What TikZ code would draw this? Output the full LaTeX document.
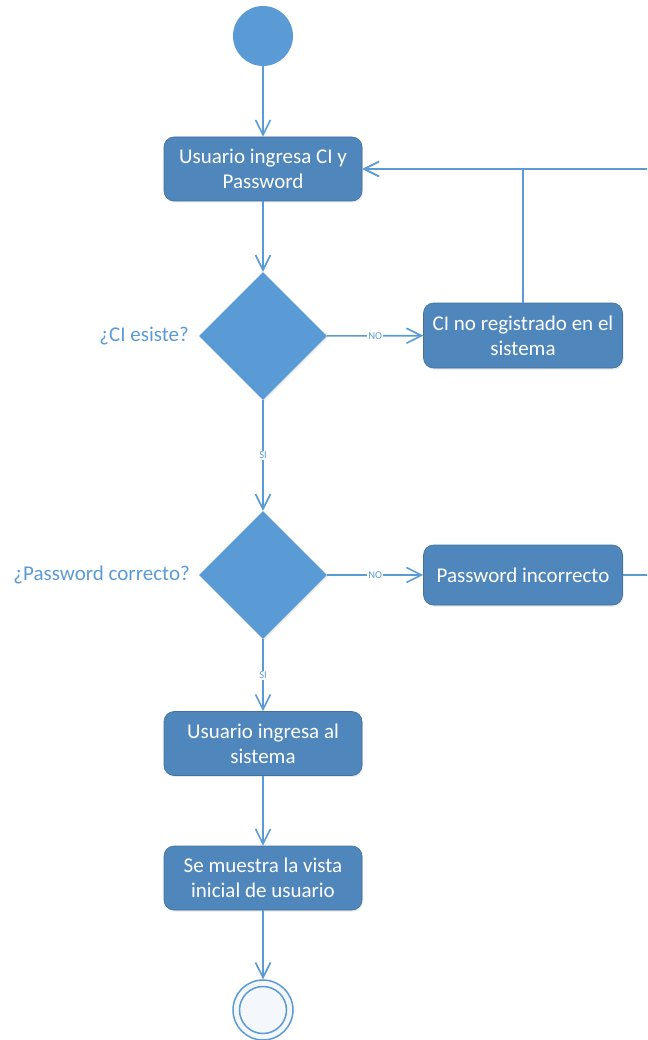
\documentclass[tikz,border=0pt]{standalone}
\usepackage{fontspec}
\setmainfont{Carlito}
\usetikzlibrary{arrows.meta,shapes.geometric,shadows}
\definecolor{boxblue}{RGB}{79,134,188}
\definecolor{boxedge}{RGB}{65,113,156}
\definecolor{lightblue}{RGB}{91,155,213}
\definecolor{finalfill}{RGB}{244,247,252}

\begin{document}
\begin{tikzpicture}[x=1pt,y=1pt,
  action/.style={draw=boxedge, line width=0.6pt, fill=boxblue, rounded corners=10pt,
    minimum width=198pt, minimum height=64pt, text=white, align=center,
    font=\fontsize{21}{25}\selectfont, inner sep=0pt,
    drop shadow={opacity=0.18, shadow xshift=1pt, shadow yshift=-1.5pt}},
  decision/.style={diamond, fill=lightblue, minimum width=128pt, minimum height=128pt,
    inner sep=0pt, drop shadow={opacity=0.15, shadow xshift=1pt, shadow yshift=-1.5pt}},
  flow/.style={draw=lightblue, line width=1.6pt,
    -{Straight Barb[length=15pt, width=15pt, line width=1.6pt]}},
  guard/.style={fill=white, text=lightblue, font=\fontsize{10.5}{12}\selectfont, inner sep=1pt},
  question/.style={text=lightblue, font=\fontsize{21}{25}\selectfont, anchor=east, inner sep=0pt}
]
\useasboundingbox (0,0) rectangle (647,-1040);
\begin{scope}
\clip (0,0) rectangle (647,-1040);

% nodes
\node[circle, fill=lightblue, minimum size=60pt, inner sep=0pt] (start) at (263,-36) {};
\node[action] (enter) at (263,-169) {Usuario ingresa CI y\\Password};
\node[decision] (ciq) at (263,-336) {};
\node[question] (ciqlabel) at (189,-336) {¿CI esiste?};
\node[action, minimum width=199pt, minimum height=65pt] (cinoreg) at (523,-335.5) {CI no registrado en el\\sistema};
\node[decision] (pwq) at (263,-575) {};
\node[question] (pwqlabel) at (190,-575) {¿Password correcto?};
\node[action, minimum width=199pt, minimum height=60pt] (pwbad) at (523,-575) {Password incorrecto};
\node[action] (login) at (263,-743.5) {Usuario ingresa al\\sistema};
\node[action] (home) at (263,-878) {Se muestra la vista\\inicial de usuario};
\node[circle, draw=lightblue, line width=1.5pt, fill=finalfill, minimum size=60pt, inner sep=0pt] (final) at (263,-1010) {};
\draw[lightblue, line width=1.5pt] (final.center) circle (23.5pt);
\coordinate (loopright) at (700,-575);

% connectors
\draw[flow] (start) -- (enter);
\draw[flow] (enter) -- (ciq);
\draw[flow] (ciq) -- node[guard] {NO} (cinoreg);
\draw[flow] (ciq) -- node[guard] {SI} (pwq);
\draw[flow] (cinoreg.north) |- (enter.east);
\draw[flow] (pwq) -- node[guard] {NO} (pwbad);
\draw[flow] (pwbad.east) -- (loopright) |- (enter.east);
\draw[flow] (pwq) -- node[guard] {SI} (login);
\draw[flow] (login) -- (home);
\draw[flow] (home) -- (final);
\end{scope}
\end{tikzpicture}
\end{document}
